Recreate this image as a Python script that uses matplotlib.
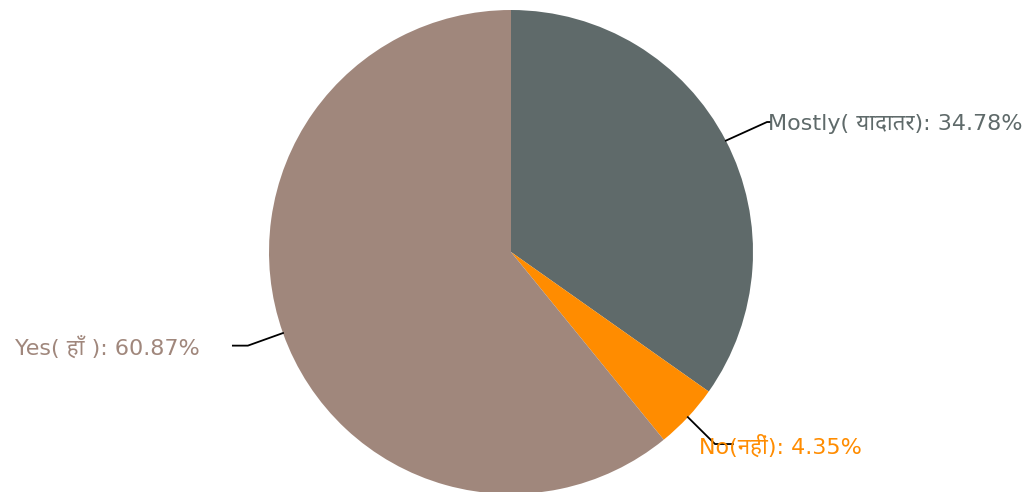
import numpy as np
import matplotlib
matplotlib.use("Agg")
import matplotlib.pyplot as plt

labels = ["Mostly( यादातर)", "No(नहीं)", "Yes( हाँ )"]
values = [34.78, 4.35, 60.87]
colors = ["#5f6a6a", "#ff8c00", "#a0877c"]

# label layout (elbow offsets, text offsets) in radius units
elbow = [(0.17, 0.077), (0.112, -0.111), (-0.145, -0.052)]
hend = [0.015, 0.074, -0.062]
text_off = [(-0.01, -0.008), (-0.142, -0.007), (-0.136, -0.008)]
ha = ["left", "left", "right"]

fams = ["DejaVu Sans", "Noto Sans Devanagari", "Lohit Devanagari", "FreeSans", "Noto Sans"]

fig = plt.figure(figsize=(10.28, 4.92), dpi=100)
W, H = 1028, 492
cx, cy, r = 511, 252, 242
ax = fig.add_axes([(cx - r) / W, (H - cy - r) / H, 2 * r / W, 2 * r / H])
wedges, _ = ax.pie(values, colors=colors, startangle=90, counterclock=False,
                   radius=1, wedgeprops=dict(linewidth=0))
ax.set_xlim(-1, 1)
ax.set_ylim(-1, 1)
ax.set_aspect("equal")
ax.axis("off")

for w, lab, v, c, e, he, to, h in zip(wedges, labels, values, colors, elbow, hend, text_off, ha):
    ang = np.deg2rad((w.theta1 + w.theta2) / 2)
    x0, y0 = np.cos(ang), np.sin(ang)
    x1, y1 = x0 + e[0], y0 + e[1]
    x2 = x1 + he
    ax.plot([x0, x1, x2], [y0, y1, y1], color="black", lw=1.3, clip_on=False)
    ax.text(x2 + to[0], y1 + to[1], f"{lab}: {v:.2f}%", color=c, fontsize=16,
            ha=h, va="center", family=fams, clip_on=False)

fig.savefig("out.png", dpi=100)
